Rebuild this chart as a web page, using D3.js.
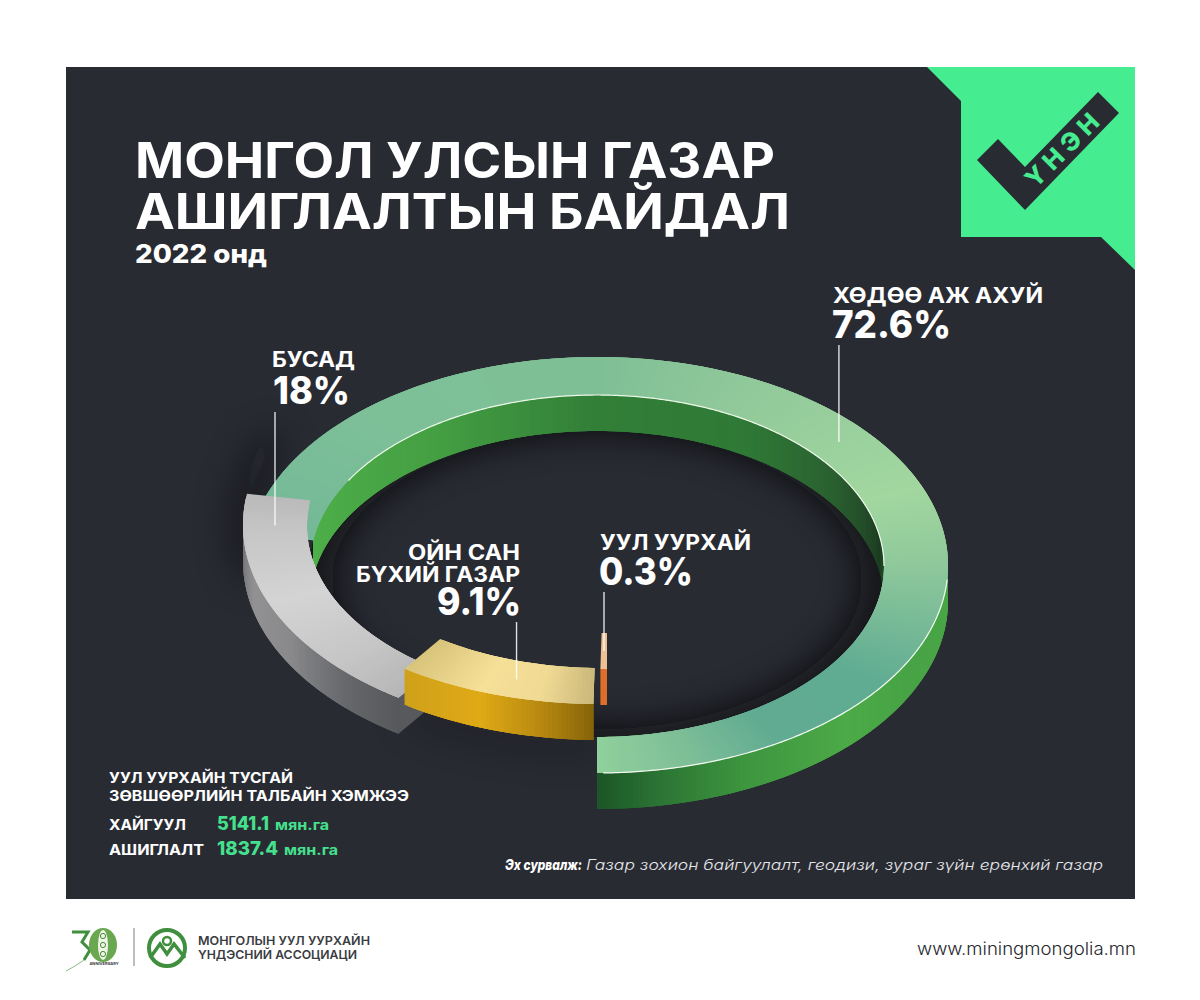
<!DOCTYPE html>
<html>
<head>
<meta charset="utf-8">
<style>
  html, body { margin: 0; background: #fff; }
  svg { display: block; }
  text { font-family: Inter, "Noto Sans", sans-serif; }
</style>
<script src="https://cdn.jsdelivr.net/npm/d3@7"></script>
</head>
<body>
<svg id="chart" width="1200" height="1000"></svg>
<script>
// values
var categories = ["ХӨДӨӨ АЖ АХУЙ", "БУСАД", "ОЙН САН БҮХИЙ ГАЗАР", "УУЛ УУРХАЙ"];
var shares = [72.6, 18, 9.1, 0.3];
var licenceTypes = ["ХАЙГУУЛ", "АШИГЛАЛТ"];
var licenceAreas = [5141.1, 1837.4];

var svg = d3.select("#chart");
var fmtPct = function(v) { return v + "%"; };

// the ring steps upward slice by slice, so each category gets its own lift and nudge
var liftOf = d3.scaleOrdinal().domain(categories).range([0, 40, 69, 104]);
var nudgeOf = d3.scaleOrdinal().domain(categories).range([0, -3, 3, 10]);

var ring = { cx: 597, rx: 351, ry: 208, cy: 565, rxIn: 287, ryIn: 171, cyIn: 566, depth: 36 };

function colorScale(stops) {
	return d3.scaleLinear()
		.domain(stops.map(function(s) { return s[0]; }))
		.range(stops.map(function(s) { return s[1]; }));
}

var topColor = d3.scaleOrdinal().domain(categories).range([
	colorScale([[0, "#90d09c"], [15, "#7fbf97"], [32, "#60ab92"], [55, "#60ac93"], [90, "#8fc89b"], [112, "#a2d79f"], [150, "#93ca9b"], [180, "#7fbf95"], [220, "#7dc098"], [262, "#74b898"]]),
	colorScale([[261, "#b9b9b9"], [272, "#c6c6c6"], [292, "#d4d4d4"], [312, "#c6c6c6"], [327, "#b5b5b5"]]),
	colorScale([[326, "#d8c37a"], [340, "#f6e098"], [350, "#f0da94"], [360, "#c6b478"]]),
	colorScale([[358, "#edc193"], [360, "#edc193"]])
]);
var sideColor = d3.scaleOrdinal().domain(categories).range([
	colorScale([[0, "#1c5527"], [10, "#2b7434"], [25, "#3e963f"], [45, "#4caa47"], [62, "#47a345"], [90, "#4aa748"]]),
	colorScale([[270, "#6f6f71"], [285, "#929294"], [300, "#8a8a8c"], [315, "#66686b"], [327, "#55575b"]]),
	colorScale([[326, "#cfa01a"], [340, "#dfaa16"], [350, "#b98a10"], [360, "#7f5f08"]]),
	colorScale([[358, "#dd6f2a"], [360, "#dd6f2a"]])
]);
var wallColor = colorScale([[90, "#2a5c2e"], [100, "#1d3c22"], [125, "#2a6030"], [150, "#2f7a36"], [180, "#327f38"], [215, "#45a043"], [262, "#4fb14a"]]);

var pie = d3.pie().sort(null).startAngle(0).endAngle(2 * Math.PI);
var slices = pie(shares).map(function(d, i) {
	return {
		name: categories[i],
		value: d.value,
		a0: d.startAngle * 180 / Math.PI,
		a1: d.endAngle * 180 / Math.PI,
		lift: liftOf(categories[i]),
		nudge: nudgeOf(categories[i])
	};
});

function outer(s, deg, drop) {
	var t = deg * Math.PI / 180;
	return [ring.cx + s.nudge + ring.rx * Math.sin(t), ring.cy - s.lift + ring.ry * Math.cos(t) + (drop || 0)];
}
function inner(s, deg, drop) {
	var t = deg * Math.PI / 180;
	return [ring.cx + s.nudge + ring.rxIn * Math.sin(t), ring.cyIn - s.lift + ring.ryIn * Math.cos(t) + (drop || 0)];
}

var line = d3.line();
var flat = { lift: 0, nudge: 0 };

function arcPoints(fn, s, a0, a1, drop) {
	var n = Math.max(2, Math.ceil((a1 - a0) / 0.5));
	return d3.range(n + 1).map(function(i) { return fn(s, a0 + (a1 - a0) * i / n, drop); });
}

// draws a band as overlapping pieces so the colour can run along the angle without seams
function band(g, a0, a1, edgeA, edgeB, color) {
	var n = Math.max(1, Math.ceil((a1 - a0) / 0.75));
	var step = (a1 - a0) / n;
	var pieces = d3.range(n).map(function(i) { return a0 + step * i; });
	g.selectAll(null)
		.data(pieces)
	  .enter().append("path")
		.attr("d", function(a) {
			var b = Math.min(a1, a + step * 3);
			var m = (a + b) / 2;
			return line([edgeA(a), edgeA(m), edgeA(b), edgeB(b), edgeB(m), edgeB(a)]) + "Z";
		})
		.attr("fill", function(a) { return color(a + step / 2); });
}

var defs = svg.append("defs");
defs.append("filter").attr("id", "blur")
	.attr("filterUnits", "userSpaceOnUse")
	.attr("x", 0).attr("y", 0).attr("width", 1200).attr("height", 1000)
	.append("feGaussianBlur").attr("stdDeviation", 18);
defs.append("clipPath").attr("id", "panelClip")
	.append("rect").attr("x", 66).attr("y", 67).attr("width", 1069).attr("height", 832);
defs.append("clipPath").attr("id", "innerClip")
	.append("path").attr("d", line(arcPoints(inner, flat, 0, 360)) + "Z");

// panel and badge
svg.append("rect").attr("x", 66).attr("y", 67).attr("width", 1069).attr("height", 832).attr("fill", "#292b33");
svg.append("path").attr("fill", "#45ec90")
	.attr("d", line([[927, 67], [1135, 67], [1135, 270], [1101, 237], [961, 237], [961, 101]]) + "Z");
svg.append("path").attr("fill", "#292b33")
	.attr("d", line([[977, 160], [998, 139], [1025, 167], [1098, 92], [1119, 113], [1025, 210]]) + "Z");
svg.append("text")
	.attr("transform", "translate(1064,148) rotate(-45)")
	.attr("text-anchor", "middle").attr("dy", ".36em")
	.attr("font-size", 25).attr("font-weight", 800).attr("letter-spacing", 6)
	.attr("fill", "#45ec90").text("ҮНЭН");

// shadows thrown by the ring on the panel
var shadow = svg.append("g").attr("clip-path", "url(#panelClip)");
shadow.append("g").attr("clip-path", "url(#innerClip)")
  .append("path")
	.attr("d", line(arcPoints(inner, flat, 0, 360, 14)))
	.attr("fill", "none").attr("stroke", "#08090b").attr("stroke-width", 44)
	.attr("opacity", 0.8).attr("filter", "url(#blur)");
shadow.append("path")
	.attr("d", line(arcPoints(outer, slices[1], 245, 285)))
	.attr("fill", "none").attr("stroke", "#08090b").attr("stroke-width", 24)
	.attr("opacity", 0.5).attr("filter", "url(#blur)");
shadow.append("path")
	.attr("d", line(arcPoints(outer, slices[2], 326, 360, ring.depth + 6)))
	.attr("fill", "none").attr("stroke", "#0d0e11").attr("stroke-width", 14)
	.attr("opacity", 0.4).attr("filter", "url(#blur)");

// ring, one slice at a time so later slices sit on top
slices.forEach(function(s, i) {
	var g = svg.append("g").attr("class", "slice");

	if (i === 0) {
		band(g, 90, s.a1,
			function(a) { return inner(s, a); },
			function(a) { return inner(s, a, ring.depth); },
			wallColor);
	}

	// outer side only shows on the front half
	var sideParts = [[s.a0, Math.min(s.a1, 90)], [Math.max(s.a0, 270), s.a1]];
	sideParts.forEach(function(p) {
		if (p[1] <= p[0]) return;
		band(g, p[0], p[1],
			function(a) { return outer(s, a); },
			function(a) { return outer(s, a, ring.depth); },
			sideColor(s.name));
	});

	// gray slice shows its end face under the gold one
	if (i === 1) {
		g.append("path").attr("fill", "#57595d")
			.attr("d", line([outer(s, s.a1), inner(s, s.a1), inner(s, s.a1, ring.depth), outer(s, s.a1, ring.depth)]) + "Z");
	}

	band(g, s.a0, s.a1,
		function(a) { return outer(s, a); },
		function(a) { return inner(s, a); },
		topColor(s.name));

	if (i === 0) {
		g.append("path").attr("fill", "none").attr("stroke", "#f4fbf2").attr("stroke-width", 1.2)
			.attr("d", line(arcPoints(outer, s, 1, 86)));
		g.append("path").attr("fill", "none").attr("stroke", "#eef8ea").attr("stroke-width", 1.2)
			.attr("d", line(arcPoints(inner, s, 90, 240)));
	}
});

// leaders run from the labels into the slices
var leaderTops = [345, 412, 622, 592];
var leaderAt = [0.5, 0.133, 0.57, 0.5];
svg.append("g").selectAll("line")
	.data(slices)
  .enter().append("line")
	.attr("x1", function(d, i) { return midBand(d, i)[0]; })
	.attr("x2", function(d, i) { return midBand(d, i)[0]; })
	.attr("y1", function(d, i) { return leaderTops[i]; })
	.attr("y2", function(d, i) { return midBand(d, i)[1]; })
	.attr("stroke", "#fff").attr("stroke-width", 1.4).attr("opacity", 0.85);

function midBand(s, i) {
	var a = s.a0 + (s.a1 - s.a0) * leaderAt[i];
	var o = outer(s, a), n = inner(s, a);
	return [(o[0] + n[0]) / 2, (o[1] + n[1]) / 2];
}

function label(txt, x, y, size, weight, fill, width, anchor, style) {
	var t = svg.append("text")
		.attr("x", x).attr("y", y)
		.attr("font-size", size).attr("font-weight", weight).attr("fill", fill)
		.attr("text-anchor", anchor || "start")
		.text(txt);
	if (width) t.attr("textLength", width).attr("lengthAdjust", "spacingAndGlyphs");
	if (style) t.attr("font-style", style);
	return t;
}

label("МОНГОЛ УЛСЫН ГАЗАР", 135, 178, 49, 700, "#fff", 640);
label("АШИГЛАЛТЫН БАЙДАЛ", 135, 229, 49, 700, "#fff", 655);
label("2022 онд", 135, 263, 26, 800, "#fff", 132);

// slice labels
label(categories[0], 833, 303, 22, 700, "#fff", 210);
label(fmtPct(shares[0]), 832, 338, 38, 800, "#fff", 119);
label(categories[1], 272, 367, 21, 700, "#fff", 83);
label(fmtPct(shares[1]), 273, 404, 38, 800, "#fff", 77);
label("ОЙН САН", 408, 560, 21, 700, "#fff", 112);
label("БҮХИЙ ГАЗАР", 356, 582, 21, 700, "#fff", 164);
label(fmtPct(shares[2]), 437, 615, 38, 800, "#fff", 84);
label(categories[3], 600, 550, 21, 700, "#fff", 151);
label(fmtPct(shares[3]), 599, 585, 38, 800, "#fff", 94);

// licence note
label("УУЛ УУРХАЙН ТУСГАЙ", 109, 783, 15, 700, "#fff", 184);
label("ЗӨВШӨӨРЛИЙН ТАЛБАЙН ХЭМЖЭЭ", 109, 801, 15, 700, "#fff", 300);
var licenceY = d3.scalePoint().domain(licenceTypes).range([830, 855]);
var labelWidths = [77, 95], numWidths = [52, 61], unitX = [275, 284];
licenceTypes.forEach(function(t, i) {
	label(t, 109, licenceY(t), 15, 700, "#fff", labelWidths[i]);
	label(String(licenceAreas[i]), 217, licenceY(t), 19, 800, "#45e08e", numWidths[i]);
	label("мян.га", unitX[i], licenceY(t), 14, 700, "#45e08e", 54);
});

label("Эх сурвалж:", 505, 870, 14.5, 800, "#fff", 77, "start", "italic");
label("Газар зохион байгуулалт, геодизи, зураг зүйн ерөнхий газар", 586, 870, 14.5, 300, "#e6e7ea", 517, "start", "italic");

label("www.miningmongolia.mn", 917, 955, 17.5, 300, "#24262c", 219);
label("МОНГОЛЫН УУЛ УУРХАЙН", 198, 945, 12, 600, "#3a3c42", 172);
label("ҮНДЭСНИЙ АССОЦИАЦИ", 198, 959, 12, 600, "#3a3c42", 159);

// footer marks
var logo = svg.append("g");
logo.append("line").attr("x1", 134).attr("x2", 134).attr("y1", 928).attr("y2", 966).attr("stroke", "#8f9590").attr("stroke-width", 1.2);
logo.append("path").attr("fill", "none").attr("stroke", "#3f8f3e").attr("stroke-width", 3)
	.attr("d", line([[72, 932], [88, 932], [82, 942], [90, 950], [84, 960]]));
logo.append("path").attr("fill", "none").attr("stroke", "#8fb98a").attr("stroke-width", 1)
	.attr("d", line([[84, 960], [75, 966], [66, 971]]));
logo.append("ellipse").attr("cx", 103).attr("cy", 945).attr("rx", 14).attr("ry", 17).attr("fill", "#6aa84f");
logo.append("ellipse").attr("cx", 103).attr("cy", 945).attr("rx", 5).attr("ry", 15).attr("fill", "#eef4e6");
logo.selectAll(null).data([936, 945, 954]).enter().append("circle")
	.attr("cx", 103).attr("cy", function(d) { return d; }).attr("r", 2.6)
	.attr("fill", "none").attr("stroke", "#4a8a3a").attr("stroke-width", 1);
logo.append("text").attr("x", 104).attr("y", 965).attr("text-anchor", "middle")
	.attr("font-size", 4).attr("font-weight", 700).attr("fill", "#3a3c42").text("ANNIVERSARY");
logo.append("circle").attr("cx", 167).attr("cy", 948).attr("r", 18).attr("fill", "none").attr("stroke", "#3f8f3e").attr("stroke-width", 4);
logo.append("path").attr("fill", "none").attr("stroke", "#3f8f3e").attr("stroke-width", 3.5)
	.attr("d", line([[150, 958], [160, 944], [167, 954], [174, 944], [185, 958]]));
logo.append("circle").attr("cx", 167).attr("cy", 941).attr("r", 4).attr("fill", "none").attr("stroke", "#3f8f3e").attr("stroke-width", 2.5);
</script>
</body>
</html>
